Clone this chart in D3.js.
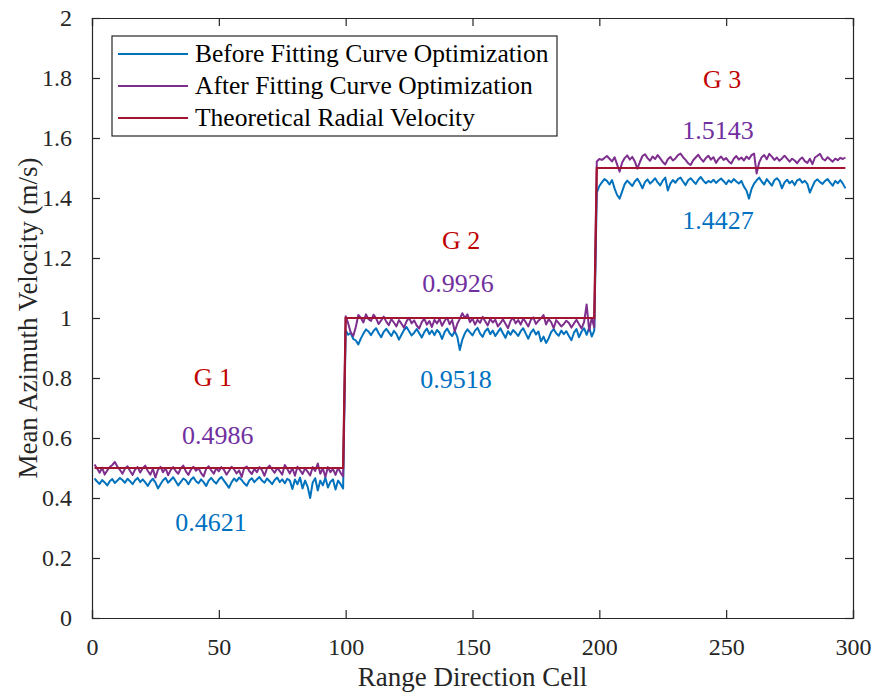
<!DOCTYPE html>
<html><head><meta charset="utf-8">
<script src="https://cdn.jsdelivr.net/npm/d3@7"></script>
<style>body{margin:0;background:#fff;} svg{display:block;font-family:"Liberation Serif","Times New Roman",serif;}</style>
</head><body><svg id="c" width="876" height="695"></svg>
<script>
// ---- data ----
const seriesNames = ["Before Fitting Curve Optimization","After Fitting Curve Optimization","Theoretical Radial Velocity"];
const xTicks = [0,50,100,150,200,250,300];
const yTicks = [0,0.2,0.4,0.6,0.8,1,1.2,1.4,1.6,1.8,2];
const segStart = [1,100,199];
const segEnd = [99,198,297];
const theoryLevels = [0.5,1.0,1.5];

const before1 = [0.465,0.455,0.447,0.460,0.452,0.442,0.456,0.463,0.450,0.458,
 0.467,0.460,0.451,0.464,0.456,0.446,0.459,0.467,0.453,0.462,
 0.452,0.440,0.455,0.464,0.452,0.432,0.446,0.459,0.467,0.451,
 0.460,0.469,0.456,0.442,0.454,0.465,0.459,0.446,0.461,0.469,
 0.456,0.449,0.462,0.453,0.440,0.458,0.467,0.456,0.448,0.462,
 0.470,0.458,0.446,0.434,0.452,0.465,0.456,0.468,0.460,0.449,
 0.441,0.458,0.466,0.453,0.462,0.470,0.458,0.451,0.465,0.456,
 0.446,0.460,0.468,0.453,0.462,0.449,0.464,0.458,0.430,0.462,
 0.446,0.468,0.432,0.458,0.438,0.400,0.452,0.466,0.425,0.458,
 0.442,0.468,0.435,0.454,0.462,0.428,0.458,0.446,0.432];
const before2 = [0.958,0.944,0.950,0.930,0.925,0.912,0.932,0.948,0.962,0.955,
 0.943,0.957,0.966,0.949,0.936,0.954,0.964,0.952,0.940,0.957,
 0.947,0.928,0.944,0.960,0.970,0.956,0.942,0.951,0.963,0.949,
 0.935,0.953,0.965,0.946,0.958,0.943,0.960,0.951,0.930,0.953,
 0.965,0.949,0.940,0.956,0.938,0.893,0.928,0.949,0.962,0.952,
 0.942,0.958,0.967,0.948,0.937,0.956,0.965,0.946,0.958,0.940,
 0.953,0.966,0.949,0.934,0.956,0.944,0.960,0.951,0.940,0.956,
 0.966,0.948,0.931,0.951,0.962,0.945,0.955,0.922,0.938,0.917,
 0.932,0.953,0.963,0.949,0.941,0.958,0.946,0.956,0.940,0.926,
 0.951,0.963,0.936,0.955,0.966,0.944,0.968,0.938,0.958];
const before3 = [1.418,1.440,1.452,1.463,1.457,1.445,1.460,1.432,1.410,1.398,
 1.422,1.446,1.458,1.449,1.440,1.455,1.464,1.450,1.432,1.453,
 1.462,1.448,1.456,1.466,1.452,1.442,1.458,1.468,1.425,1.448,
 1.460,1.451,1.463,1.468,1.455,1.443,1.459,1.466,1.456,1.447,
 1.461,1.470,1.458,1.449,1.457,1.452,1.461,1.450,1.458,1.465,
 1.456,1.446,1.459,1.452,1.463,1.455,1.448,1.457,1.438,1.425,
 1.398,1.430,1.448,1.459,1.468,1.455,1.445,1.463,1.452,1.441,
 1.459,1.466,1.456,1.432,1.452,1.461,1.449,1.457,1.443,1.459,
 1.463,1.451,1.457,1.447,1.418,1.438,1.456,1.462,1.453,1.447,
 1.457,1.463,1.451,1.441,1.457,1.449,1.460,1.448,1.432];
const after1 = [0.512,0.498,0.484,0.501,0.478,0.492,0.503,0.510,0.520,0.505,
 0.494,0.481,0.498,0.506,0.490,0.477,0.495,0.503,0.485,0.499,
 0.508,0.490,0.478,0.497,0.468,0.494,0.504,0.486,0.500,0.476,
 0.493,0.503,0.490,0.481,0.499,0.508,0.489,0.477,0.495,0.504,
 0.491,0.500,0.483,0.472,0.497,0.506,0.492,0.481,0.499,0.489,
 0.503,0.494,0.478,0.490,0.504,0.496,0.482,0.492,0.470,0.500,
 0.505,0.490,0.480,0.497,0.486,0.503,0.493,0.474,0.499,0.508,
 0.495,0.484,0.500,0.490,0.478,0.510,0.497,0.482,0.500,0.474,
 0.504,0.493,0.480,0.499,0.488,0.475,0.503,0.490,0.515,0.481,
 0.499,0.470,0.503,0.486,0.497,0.477,0.500,0.484,0.472];
const after2 = [1.006,0.982,0.952,0.940,0.970,1.010,1.000,0.985,1.012,0.996,
 0.990,1.011,0.999,0.980,0.992,1.005,0.988,0.976,0.996,0.985,
 0.972,0.993,0.981,0.968,0.989,1.001,0.982,0.992,0.975,0.965,
 0.986,0.998,0.978,0.990,0.970,0.994,0.982,0.997,0.974,0.990,
 1.001,0.979,0.993,0.955,0.981,0.997,1.016,1.000,1.012,0.986,
 0.998,0.978,0.994,0.984,1.004,0.989,0.975,0.997,0.985,0.994,
 0.972,0.983,0.996,0.981,0.966,0.990,1.001,0.982,0.993,0.978,
 0.998,0.986,0.972,0.994,1.002,0.980,0.991,0.999,1.010,0.978,
 0.996,0.986,0.966,0.993,0.983,0.972,0.980,0.991,0.983,0.968,
 0.982,0.994,0.979,0.965,0.987,1.045,0.958,1.000,0.968];
const after3 = [1.522,1.530,1.527,1.533,1.540,1.531,1.522,1.536,1.512,1.488,
 1.518,1.533,1.542,1.528,1.537,1.522,1.498,1.520,1.540,1.546,
 1.533,1.524,1.538,1.530,1.543,1.532,1.520,1.512,1.529,1.537,
 1.525,1.532,1.543,1.548,1.536,1.527,1.516,1.510,1.526,1.535,
 1.544,1.531,1.521,1.533,1.541,1.528,1.536,1.517,1.530,1.538,
 1.527,1.533,1.522,1.515,1.531,1.540,1.528,1.535,1.525,1.538,
 1.530,1.543,1.548,1.482,1.518,1.536,1.543,1.529,1.547,1.538,
 1.527,1.535,1.524,1.532,1.541,1.531,1.521,1.531,1.525,1.516,
 1.528,1.535,1.523,1.517,1.531,1.513,1.535,1.541,1.547,1.531,
 1.525,1.536,1.528,1.521,1.531,1.526,1.534,1.530,1.535];

const groupLabels = ["G 1","G 2","G 3"];
const groupLabelPos = [[47.7,0.773],[145.5,1.23],[248.4,1.767]];
const afterMeans = ["0.4986","0.9926","1.5143"];
const afterMeanPos = [[49.6,0.58],[144.3,1.087],[246.8,1.597]];
const beforeMeans = ["0.4621","0.9518","1.4427"];
const beforeMeanPos = [[46.9,0.29],[143.5,0.767],[246.8,1.297]];

// ---- build ----
const beforeVals = before1.concat(before2, before3);
const afterVals = after1.concat(after2, after3);
const cells = d3.range(1, beforeVals.length + 1);
const beforePts = cells.map((c,i)=>[c, beforeVals[i]]);
const afterPts = cells.map((c,i)=>[c, afterVals[i]]);
const theoryPts = [];
theoryLevels.forEach((v,i)=>{ theoryPts.push([segStart[i], v]); theoryPts.push([segEnd[i], v]); });

const colors = ["#0072BD","#7E2F8E","#A2142F"];
const axisColor = "#262626";

const L = 92, R = 853, T = 18, B = 618;
const svg = d3.select("#c");
const x = d3.scaleLinear().domain([0,300]).range([L,R]);
const y = d3.scaleLinear().domain([0,2]).range([B,T]);

// data lines
const line = d3.line().x(d=>x(d[0])).y(d=>y(d[1]));
const plot = svg.append("g");
plot.append("path").attr("d", line(beforePts)).attr("fill","none").attr("stroke",colors[0]).attr("stroke-width",2).attr("stroke-linejoin","round");
plot.append("path").attr("d", line(afterPts)).attr("fill","none").attr("stroke",colors[1]).attr("stroke-width",2).attr("stroke-linejoin","round");
plot.append("path").attr("d", line(theoryPts)).attr("fill","none").attr("stroke",colors[2]).attr("stroke-width",2.2);

// axes
const tickLen = 8;
const fmt = d => d3.format("~g")(d);
const axB = svg.append("g").attr("transform",`translate(0,${B})`)
  .call(d3.axisBottom(x).tickValues(xTicks).tickSize(-tickLen).tickPadding(tickLen+12).tickFormat(fmt));
const axT = svg.append("g").attr("transform",`translate(0,${T})`)
  .call(d3.axisTop(x).tickValues(xTicks).tickSize(-tickLen).tickFormat(""));
const axL = svg.append("g").attr("transform",`translate(${L},0)`)
  .call(d3.axisLeft(y).tickValues(yTicks).tickSize(-tickLen).tickPadding(tickLen+12).tickFormat(fmt));
const axR = svg.append("g").attr("transform",`translate(${R},0)`)
  .call(d3.axisRight(y).tickValues(yTicks).tickSize(-tickLen).tickFormat(""));
[axB,axT,axL,axR].forEach(a=>{
  a.attr("font-family","Liberation Serif");
  a.select(".domain").attr("stroke",axisColor).attr("stroke-width",1.2);
  a.selectAll(".tick line").attr("stroke",axisColor).attr("stroke-width",1.2);
  a.selectAll(".tick text").attr("fill",axisColor).attr("font-size",24).attr("font-family","Liberation Serif");
});

// axis labels
svg.append("text").attr("x",(L+R)/2).attr("y",686).attr("text-anchor","middle")
  .attr("font-size",27).attr("fill",axisColor).text("Range Direction Cell");
svg.append("text").attr("transform",`translate(37,${(T+B)/2}) rotate(-90)`).attr("text-anchor","middle")
  .attr("font-size",27).attr("fill",axisColor).text("Mean Azimuth Velocity (m/s)");

// annotations
const ann = svg.append("g").attr("font-size",26).attr("text-anchor","middle");
groupLabels.forEach((t,i)=>ann.append("text").attr("x",x(groupLabelPos[i][0])).attr("y",y(groupLabelPos[i][1])).attr("fill","#C00000").text(t));
afterMeans.forEach((t,i)=>ann.append("text").attr("x",x(afterMeanPos[i][0])).attr("y",y(afterMeanPos[i][1])).attr("fill","#7030A0").text(t));
beforeMeans.forEach((t,i)=>ann.append("text").attr("x",x(beforeMeanPos[i][0])).attr("y",y(beforeMeanPos[i][1])).attr("fill","#0070C0").text(t));

// legend
const lg = svg.append("g");
lg.append("rect").attr("x",112).attr("y",36).attr("width",445).attr("height",100)
  .attr("fill","#fff").attr("stroke",axisColor).attr("stroke-width",1.2);
const rowsY = [54,86,118];
seriesNames.forEach((n,i)=>{
  lg.append("line").attr("x1",118).attr("x2",188).attr("y1",rowsY[i]).attr("y2",rowsY[i])
    .attr("stroke",colors[i]).attr("stroke-width",2);
  lg.append("text").attr("x",195).attr("y",rowsY[i]).attr("dy","0.33em")
    .attr("font-size",25.5).attr("fill","#000").text(n);
});
</script></body></html>
